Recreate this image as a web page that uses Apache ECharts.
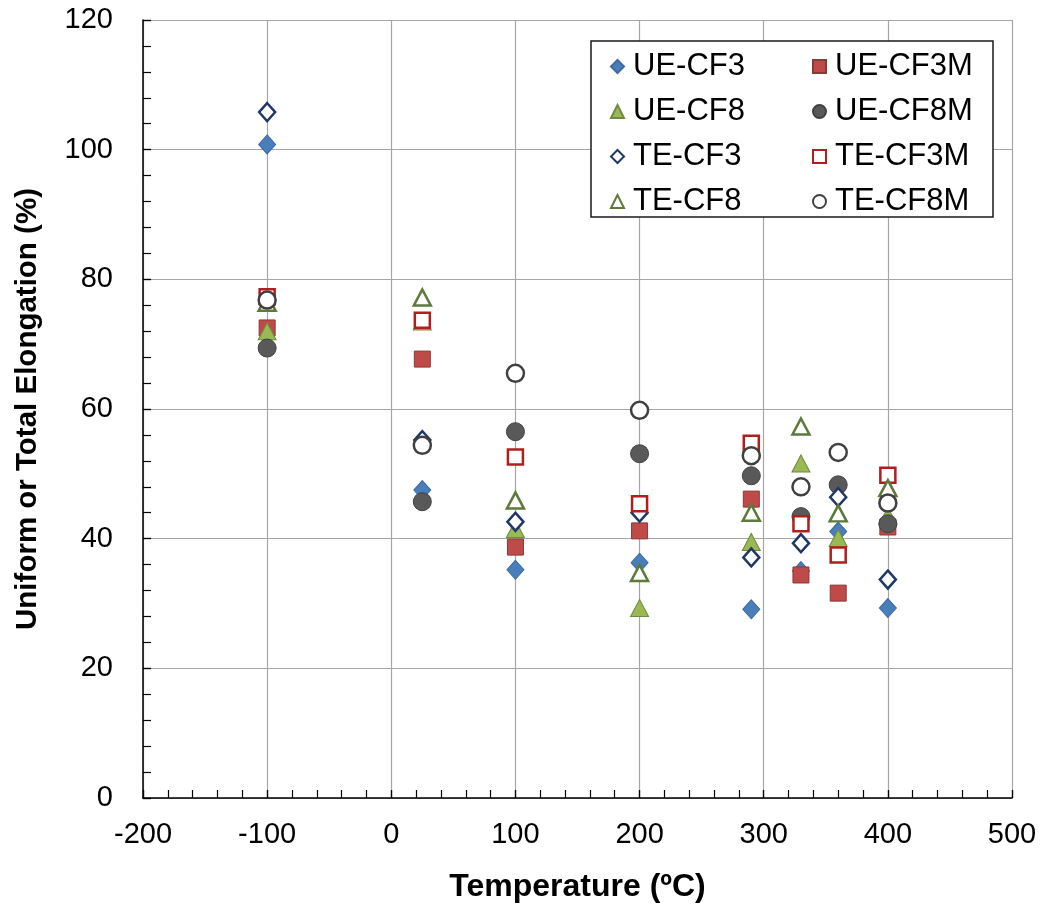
<!DOCTYPE html>
<html>
<head>
<meta charset="utf-8">
<style>
  html, body { margin: 0; padding: 0; background: #fff; }
  #chart { width: 1047px; height: 914px; }
</style>
<script src="https://cdn.jsdelivr.net/npm/echarts@6/dist/echarts.min.js"></script>
</head>
<body>
<div id="chart"></div>
<script>
// Test temperatures (ºC)
const temps = [-100, 25, 100, 200, 290, 330, 360, 400];

// Uniform elongation (%)
const ueCF3  = [100.8, 47.5, 35.2, 36.3, 29.1, 35.0, 41.1, 29.3];
const ueCF3M = [72.5, 67.7, 38.7, 41.2, 46.1, 34.4, 31.6, 41.8];
const ueCF8  = [72.0, 73.5, 41.5, 29.3, 39.5, 51.6, 40.1, 43.5];
const ueCF8M = [69.4, 45.7, 56.5, 53.1, 49.7, 43.4, 48.3, 42.3];

// Total elongation (%)
const teCF3  = [105.8, 55.2, 42.6, 44.0, 37.1, 39.3, 46.4, 33.7];
const teCF3M = [77.3, 73.7, 52.6, 45.4, 54.7, 42.3, 37.5, 49.8];
const teCF8  = [76.4, 77.2, 45.9, 34.7, 44.0, 57.3, 43.9, 47.8];
const teCF8M = [76.8, 54.4, 65.5, 59.8, 52.8, 48.0, 53.3, 45.5];

const FONT = 'Liberation Sans, Arial, sans-serif';

function pairs(vals) { return temps.map((t, i) => [t, vals[i]]); }

function filled(name, vals, symbol, size, fill, edge) {
  return {
    name, type: 'scatter', data: pairs(vals), symbol, symbolSize: size,
    itemStyle: { color: fill, borderColor: edge, borderWidth: 1, opacity: 1 },
    emphasis: { disabled: true }
  };
}
function hollow(name, vals, symbol, size, edge) {
  return {
    name, type: 'scatter', data: pairs(vals), symbol, symbolSize: size,
    itemStyle: { color: '#ffffff', borderColor: edge, borderWidth: 2.5, opacity: 1 },
    emphasis: { disabled: true }
  };
}

const series = [
  filled('UE-CF3',  ueCF3,  'diamond',  [17, 19], '#4a7ebb', '#3d6aa0'),
  filled('UE-CF3M', ueCF3M, 'rect',     16,       '#be4b48', '#8c3836'),
  filled('UE-CF8',  ueCF8,  'triangle', [18, 17], '#98b954', '#71893f'),
  filled('UE-CF8M', ueCF8M, 'circle',   18,       '#595959', '#404040'),
  hollow('TE-CF3',  teCF3,  'diamond',  [16, 18], '#1f3864'),
  hollow('TE-CF3M', teCF3M, 'rect',     15,       '#b21e1e'),
  hollow('TE-CF8',  teCF8,  'triangle', [17, 16], '#5e7a3a'),
  hollow('TE-CF8M', teCF8M, 'circle',   17,       '#404040')
];

const legendText = {
  fontSize: 31, fontFamily: FONT, color: '#000', lineHeight: 30,
  padding: [0, 0, 0, 4]
};

const tickStyle = { color: '#000', width: 1.2 };

// Inward-pointing minor ticks come from a bare overlay axis with a finer step
function minorOverlay(min, max, step) {
  return {
    type: 'value', min, max, interval: step,
    axisLine: { show: false, onZero: false },
    axisTick: { show: true, inside: true, length: 8, lineStyle: tickStyle },
    axisLabel: { show: false },
    splitLine: { show: false }
  };
}

const chart = echarts.init(document.getElementById('chart'), null, { renderer: 'canvas' });
chart.setOption({
  animation: false,
  backgroundColor: '#ffffff',
  grid: { left: 143, top: 20, width: 869, height: 778, containLabel: false },
  xAxis: [
    {
      type: 'value', min: -200, max: 500, interval: 100,
      name: 'Temperature (ºC)', nameLocation: 'middle', nameGap: 73,
      nameTextStyle: { fontSize: 32, fontWeight: 'bold', fontFamily: FONT, color: '#000' },
      axisLine: { show: true, onZero: false, lineStyle: { color: '#000', width: 1.5 } },
      axisTick: { show: true, inside: true, length: 8, lineStyle: tickStyle },
      axisLabel: { fontSize: 29, fontFamily: FONT, color: '#000', margin: 22 },
      splitLine: { show: true, lineStyle: { color: '#a6a6a6', width: 1.2 } }
    },
    Object.assign(minorOverlay(-200, 500, 20), { position: 'bottom' })
  ],
  yAxis: [
    {
      type: 'value', min: 0, max: 120, interval: 20,
      name: 'Uniform or Total Elongation (%)', nameLocation: 'middle', nameGap: 100,
      nameTextStyle: { fontSize: 29.5, fontWeight: 'bold', fontFamily: FONT, color: '#000' },
      axisLine: { show: true, onZero: false, lineStyle: { color: '#000', width: 1.5 } },
      axisTick: { show: true, inside: true, length: 8, lineStyle: tickStyle },
      axisLabel: { fontSize: 29, fontFamily: FONT, color: '#000', margin: 30 },
      splitLine: { show: true, lineStyle: { color: '#a6a6a6', width: 1.2 } }
    },
    Object.assign(minorOverlay(0, 120, 4), { position: 'left' })
  ],
  graphic: [{
    type: 'rect', z: 3,
    shape: { x: 591, y: 41, width: 402, height: 176 },
    style: { fill: '#ffffff', stroke: '#1a1a1a', lineWidth: 1.5 }
  }],
  legend: [
    {
      orient: 'vertical', left: 605, top: 46, itemGap: 14,
      itemWidth: 13, itemHeight: 13, z: 5,
      data: ['UE-CF3', 'UE-CF8', 'TE-CF3', 'TE-CF8'],
      textStyle: legendText, selectedMode: false
    },
    {
      orient: 'vertical', left: 807, top: 46, itemGap: 14,
      itemWidth: 13, itemHeight: 13, z: 5,
      data: ['UE-CF3M', 'UE-CF8M', 'TE-CF3M', 'TE-CF8M'],
      textStyle: legendText, selectedMode: false
    }
  ],
  series
});
</script>
</body>
</html>
